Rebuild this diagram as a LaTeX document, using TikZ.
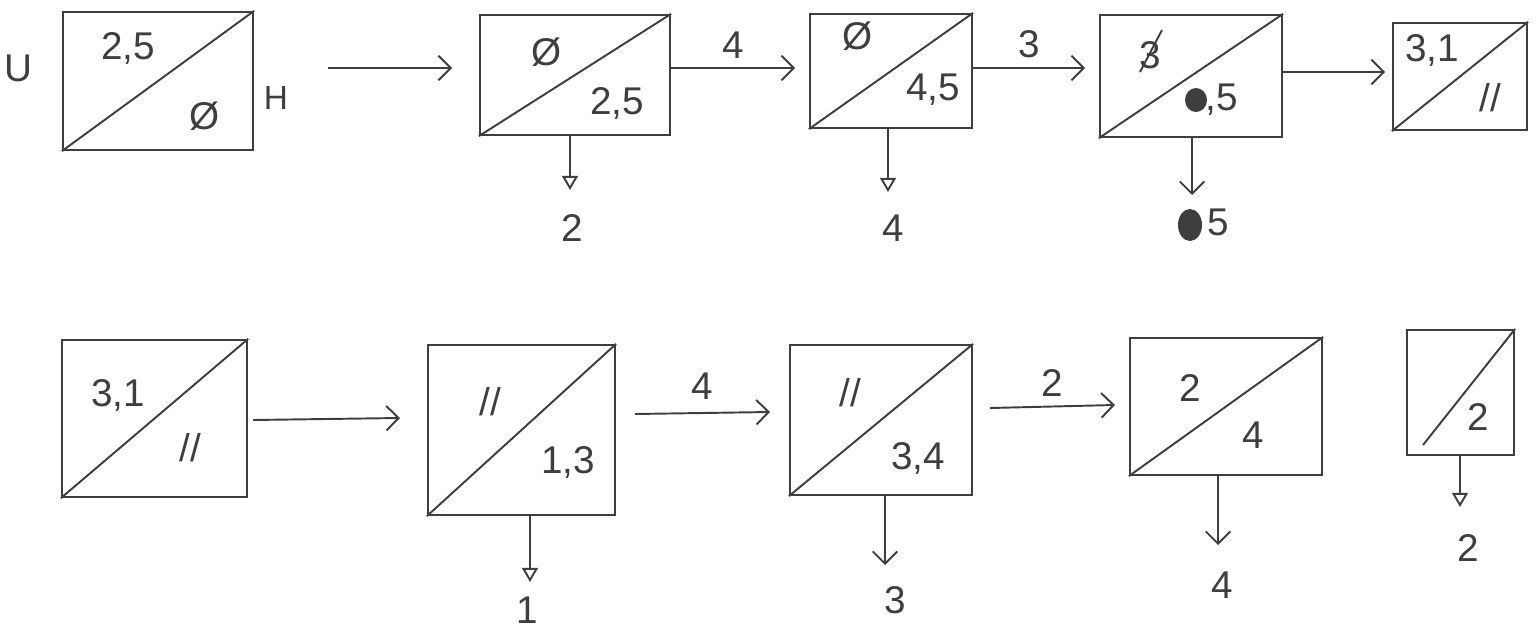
\documentclass[tikz,border=0pt]{standalone}
\usepackage{fontspec}
\setmainfont{Liberation Sans}
\usetikzlibrary{arrows.meta}
\definecolor{pen}{HTML}{3E3E3E}
\tikzset{
  box/.style={draw=pen, line width=1.3pt, inner sep=0pt},
  lbl/.style={text=pen, font=\fontsize{22}{26}\selectfont, inner sep=1pt},
  slbl/.style={text=pen, font=\fontsize{19}{22}\selectfont, inner sep=1pt},
  conn/.style={draw=pen, line width=1.1pt},
  varrow/.style={conn, -{Straight Barb[length=7pt,width=14pt,line width=1.1pt]}},
  tarrow/.style={conn, -{Triangle[open,length=8pt,width=9pt,line width=1.1pt]}},
  diag/.style={draw=pen, line width=1.1pt},
}
\begin{document}
\begin{tikzpicture}[x=0.02cm,y=-0.02cm]
\useasboundingbox (0,0) rectangle (1539,636);
% ---------- Row 1 ----------
\node[box, minimum width=3.8cm, minimum height=2.76cm] (B1) at (158,81) {};
\draw[diag] (B1.south west) -- (B1.north east);
\node[lbl] (B1a) at (128,48) {2,5};
\node[lbl] (B1b) at (205,116) {Ø};
\node[lbl] (U) at (18,68) {U};
\node[slbl] (H) at (276,98) {H};

\node[box, minimum width=3.8cm, minimum height=2.4cm] (B2) at (575,75) {};
\draw[diag] (B2.south west) -- (B2.north east);
\node[lbl] (B2a) at (547,52) {Ø};
\node[lbl] (B2b) at (617,103) {2,5};
\node[lbl] (L2) at (572,228) {2};

\node[box, minimum width=3.24cm, minimum height=2.28cm] (B3) at (891,71) {};
\draw[diag] (B3.south west) -- (B3.north east);
\node[lbl] (B3a) at (858,36) {Ø};
\node[lbl] (B3b) at (933,90) {4,5};
\node[lbl] (L3) at (893,228) {4};

\node[box, minimum width=3.64cm, minimum height=2.44cm] (B4) at (1191,76) {};
\draw[diag] (B4.south west) -- (B4.north east);
\node[lbl] (B4a) at (1150,55) {3};
\draw[diag] (1140,72) -- (1162,30);
\fill[pen] (1196,100) ellipse (11 and 12);
\node[lbl] (B4b) at (1222,100) {,5};
\fill[pen] (1190,225) ellipse (12 and 16);
\node[lbl] (L4) at (1218,222) {5};

\node[box, minimum width=2.68cm, minimum height=2.14cm] (B5) at (1460,76.5) {};
\draw[diag] (B5.south west) -- (B5.north east);
\node[lbl] (B5a) at (1432,50) {3,1};
\node[lbl] (B5b) at (1490,98) {//};

% row 1 connectors
\coordinate (s1) at (328,68);
\coordinate (e1) at (452,68);
\draw[varrow] (s1) -- (e1);
\coordinate (e2) at (795,68);
\draw[varrow] (B2.east |- e2) -- node[lbl, above=4pt] (n4) {4} (e2);
\coordinate (e3) at (1085,68);
\draw[varrow] (B3.east |- e3) -- node[lbl, above=4pt] (n3) {3} (e3);
\coordinate (e4) at (1385,72);
\draw[varrow] (B4.east |- e4) -- (e4);

\coordinate (d2s) at (570,135);
\coordinate (d2e) at (570,190);
\draw[tarrow] (d2s) -- (d2e);
\coordinate (d3s) at (888,128);
\coordinate (d3e) at (888,192);
\draw[tarrow] (d3s) -- (d3e);
\coordinate (d4s) at (1192,137);
\coordinate (d4e) at (1192,195);
\draw[varrow] (d4s) -- (d4e);

% ---------- Row 2 ----------
\node[box, minimum width=3.7cm, minimum height=3.14cm] (C1) at (154.5,418.5) {};
\draw[diag] (C1.south west) -- (C1.north east);
\node[lbl] (C1a) at (118,395) {3,1};
\node[lbl] (C1b) at (190,448) {//};

\node[box, minimum width=3.74cm, minimum height=3.4cm] (C2) at (521.5,430) {};
\draw[diag] (C2.south west) -- (C2.north east);
\node[lbl] (C2a) at (490,402) {//};
\node[lbl] (C2b) at (568,462) {1,3};
\node[lbl] (M2) at (527,610) {1};

\node[box, minimum width=3.64cm, minimum height=3.0cm] (C3) at (881,420) {};
\draw[diag] (C3.south west) -- (C3.north east);
\node[lbl] (C3a) at (850,393) {//};
\node[lbl] (C3b) at (918,458) {3,4};
\node[lbl] (M3) at (895,600) {3};

\node[box, minimum width=3.84cm, minimum height=2.74cm] (C4) at (1226,406.5) {};
\draw[diag] (C4.south west) -- (C4.north east);
\node[lbl] (C4a) at (1190,388) {2};
\node[lbl] (C4b) at (1253,435) {4};
\node[lbl] (M4) at (1222,585) {4};

\node[box, minimum width=2.14cm, minimum height=2.5cm] (C5) at (1460.5,392.5) {};
\coordinate (c5d) at (1423,445);
\draw[diag] (c5d) -- (C5.north east);
\node[lbl] (C5a) at (1478,417) {2};
\node[lbl] (M5) at (1468,548) {2};

% row 2 connectors
\coordinate (f1s) at (253,420);
\coordinate (f1) at (400,418);
\draw[varrow] (f1s) -- (f1);
\coordinate (f2s) at (635,414);
\coordinate (f2) at (770,412);
\draw[varrow] (f2s) -- node[lbl, above=6pt] (n4b) {4} (f2);
\coordinate (f3s) at (990,408);
\coordinate (f3) at (1115,405);
\draw[varrow] (f3s) -- node[lbl, above=4pt] (n2b) {2} (f3);

\coordinate (g2s) at (530,515);
\coordinate (g2e) at (530,582);
\draw[tarrow] (g2s) -- (g2e);
\coordinate (g3s) at (885,495);
\coordinate (g3e) at (885,565);
\draw[varrow] (g3s) -- (g3e);
\coordinate (g4s) at (1218,475);
\coordinate (g4e) at (1218,545);
\draw[varrow] (g4s) -- (g4e);
\coordinate (g5s) at (1460,455);
\coordinate (g5e) at (1460,507);
\draw[tarrow] (g5s) -- (g5e);
\end{tikzpicture}
\end{document}
